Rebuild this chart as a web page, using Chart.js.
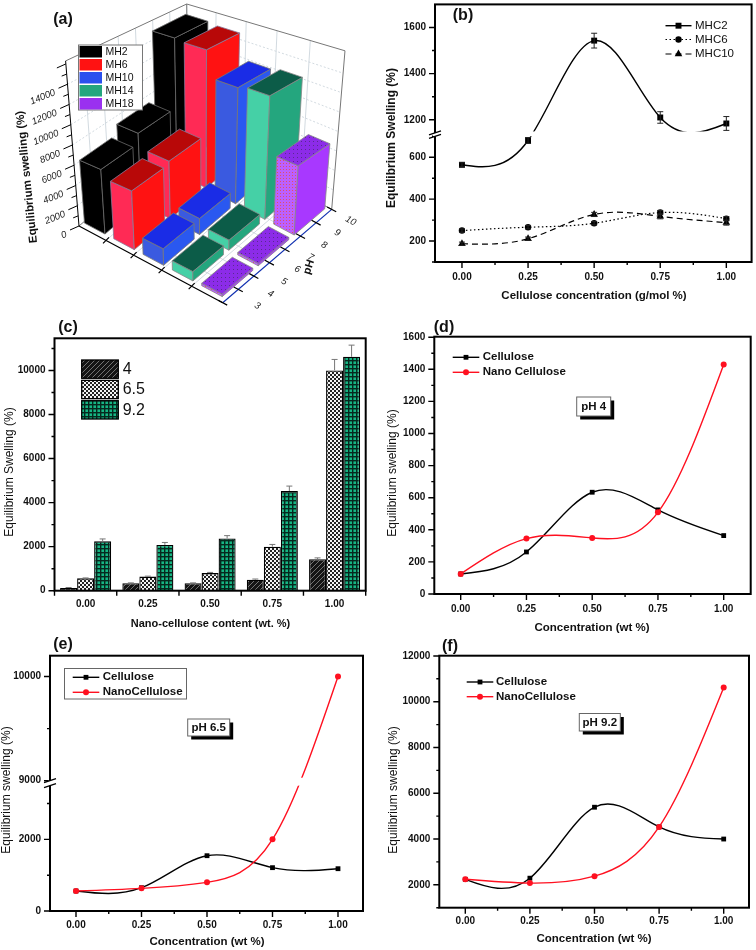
<!DOCTYPE html>
<html>
<head>
<meta charset="utf-8">
<title>Equilibrium swelling</title>
<script src="https://cdn.jsdelivr.net/npm/chart.js@4/dist/chart.umd.min.js"></script>
<style>
  html, body { margin: 0; padding: 0; background: #fff; }
  #stage { position: relative; width: 756px; height: 950px; overflow: hidden; }
  #stage canvas { position: absolute; left: 0; top: 0; }
</style>
</head>
<body>
<div id="stage">
  <canvas id="panelA" width="756" height="950"></canvas>
  <canvas id="panelB" width="756" height="950"></canvas>
  <canvas id="panelC" width="756" height="950"></canvas>
  <canvas id="panelD" width="756" height="950"></canvas>
  <canvas id="panelE" width="756" height="950"></canvas>
  <canvas id="panelF" width="756" height="950"></canvas>
</div>
<script>
// panel (a): rows are the three measured pH levels
const mhNames = ["MH2", "MH6", "MH10", "MH14", "MH18"];
const mh2 = [6250, 7300, 15200];
const mh6 = [5500, 5800, 15000];
const mh10 = [1500, 1550, 12100];
const mh14 = [820, 940, 12400];
const mh18 = [200, 210, 6700];
const pHTicks = [3, 4, 5, 6, 7, 8, 9, 10];
const swellTicks3d = [0, 2000, 4000, 6000, 8000, 10000, 12000, 14000];

// shared x positions
const concentrations = [0, 0.25, 0.5, 0.75, 1];
const concLabels = ["0.00", "0.25", "0.50", "0.75", "1.00"];
const xMinor = [0.125, 0.375, 0.625, 0.875];

// panel (b)
const mhc2 = [564, 680, 1543, 1210, 1184];
const mhc2Err = [10, 14, 32, 25, 30];
const mhc6 = [250, 266, 285, 336, 307];
const mhc6Err = [8, 8, 8, 10, 10];
const mhc10 = [187, 211, 327, 318, 288];
const mhc10Err = [8, 8, 10, 12, 12];
const bMajor = [200, 400, 600, 1200, 1400, 1600];
const bMinor = [100, 300, 500, 700, 1300, 1500];

// panel (c)
const ph4 = [125, 340, 340, 500, 1430];
const ph4Err = [20, 15, 15, 30, 60];
const ph65 = [560, 640, 800, 2000, 10000];
const ph65Err = [20, 20, 30, 100, 500];
const ph92 = [2240, 2080, 2370, 4530, 10620];
const ph92Err = [110, 110, 130, 220, 530];
const cMajor = [0, 2000, 4000, 6000, 8000, 10000];
const cMinor = [1000, 3000, 5000, 7000, 9000, 11000];

// panel (d)
const celluloseD = [125, 262, 634, 524, 364];
const nanoD = [125, 345, 349, 509, 1430];
const dMajor = [0, 200, 400, 600, 800, 1000, 1200, 1400, 1600];
const dMinor = [100, 300, 500, 700, 900, 1100, 1300, 1500];

// panel (e)
const celluloseE = [558, 650, 1544, 1210, 1181];
const nanoE = [558, 633, 800, 2000, 10000];
const eMajor = [0, 2000, 9000, 10000];
const eMinor = [1000, 3000, 9500];

// panel (f)
const celluloseF = [2240, 2290, 5390, 4530, 4000];
const nanoF = [2240, 2075, 2378, 4530, 10620];
const fMajor = [2000, 4000, 6000, 8000, 10000, 12000];
const fMinor = [1000, 3000, 5000, 7000, 9000, 11000];

const FONT = '"Liberation Sans", Arial, sans-serif';
const RED = "#ff1020";
const BLACK = "#000000";

// y axis with a cut in it, used by panels (b) and (e)
class BrokenScale extends Chart.LinearScale {
  static id = "broken";
  static defaults = {};
  getPixelForValue(value) {
    const { low, high, lowFrac, highFrac } = this.options.cut;
    let frac;
    if (value <= low) {
      frac = ((value - this.min) / (low - this.min)) * lowFrac;
    } else if (value >= high) {
      frac = highFrac + ((value - high) / (this.max - high)) * (1 - highFrac);
    } else {
      frac = lowFrac + ((value - low) / (high - low)) * (highFrac - lowFrac);
    }
    return this.getPixelForDecimal(frac);
  }
}
Chart.register(BrokenScale);

function xy(values) {
  return values.map((v, i) => ({ x: concentrations[i], y: v }));
}

function makePattern(size, paint) {
  const c = document.createElement("canvas");
  c.width = size;
  c.height = size;
  paint(c.getContext("2d"));
  return c.getContext("2d").createPattern(c, "repeat");
}

const hatchFill = makePattern(5, (g) => {
  g.fillStyle = "#141414";
  g.fillRect(0, 0, 5, 5);
  g.strokeStyle = "#8a8a8a";
  g.lineWidth = 0.8;
  g.beginPath();
  g.moveTo(-1, 6);
  g.lineTo(6, -1);
  g.moveTo(-1, 1);
  g.lineTo(1, -1);
  g.moveTo(4, 6);
  g.lineTo(6, 4);
  g.stroke();
});
const checkFill = makePattern(4, (g) => {
  g.fillStyle = "#f4f4f4";
  g.fillRect(0, 0, 4, 4);
  g.fillStyle = "#222";
  g.fillRect(0, 0, 2, 2);
  g.fillRect(2, 2, 2, 2);
});
const gridFill = makePattern(4, (g) => {
  g.fillStyle = "#16b583";
  g.fillRect(0, 0, 4, 4);
  g.fillStyle = "#06281e";
  g.fillRect(0, 0, 4, 1.4);
  g.fillRect(0, 0, 1.4, 4);
});
const dotFill = makePattern(3, (g) => {
  g.fillStyle = "#bb60ff";
  g.fillRect(0, 0, 3, 3);
  g.fillStyle = "#e0506a";
  g.fillRect(1, 1, 1, 1);
});
const dotTopFill = makePattern(4, (g) => {
  g.fillStyle = "#8c2ce8";
  g.fillRect(0, 0, 4, 4);
  g.fillStyle = "#5a2a90";
  g.fillRect(1, 1, 1, 1);
});

function drawText(ctx, t) {
  ctx.save();
  ctx.translate(t.x, t.y);
  if (t.rot) ctx.rotate((t.rot * Math.PI) / 180);
  ctx.font = t.font;
  ctx.fillStyle = t.color || "#111";
  ctx.textAlign = t.align || "center";
  ctx.textBaseline = "middle";
  ctx.fillText(t.text, 0, 0);
  ctx.restore();
}

// natural cubic spline through the plotted points, written into the
// control points the line element already reads
function applySpline(meta) {
  const pts = meta.data;
  const n = pts.length;
  const h = [];
  for (let i = 0; i < n - 1; i++) h.push(pts[i + 1].x - pts[i].x);
  const a = new Array(n).fill(0);
  const b = new Array(n).fill(1);
  const c = new Array(n).fill(0);
  const d = new Array(n).fill(0);
  for (let i = 1; i < n - 1; i++) {
    a[i] = h[i - 1];
    b[i] = 2 * (h[i - 1] + h[i]);
    c[i] = h[i];
    d[i] = 6 * ((pts[i + 1].y - pts[i].y) / h[i] - (pts[i].y - pts[i - 1].y) / h[i - 1]);
  }
  for (let i = 1; i < n; i++) {
    const m = a[i] / b[i - 1];
    b[i] -= m * c[i - 1];
    d[i] -= m * d[i - 1];
  }
  const M = new Array(n).fill(0);
  M[n - 1] = d[n - 1] / b[n - 1];
  for (let i = n - 2; i >= 0; i--) M[i] = (d[i] - c[i] * M[i + 1]) / b[i];
  for (let i = 0; i < n - 1; i++) {
    const p = pts[i];
    const q = pts[i + 1];
    const s = (q.y - p.y) / h[i];
    const d0 = s - (h[i] * (2 * M[i] + M[i + 1])) / 6;
    const d1 = s + (h[i] * (M[i] + 2 * M[i + 1])) / 6;
    p.cp2x = p.x + h[i] / 3;
    p.cp2y = p.y + (d0 * h[i]) / 3;
    q.cp1x = q.x - h[i] / 3;
    q.cp1y = q.y - (d1 * h[i]) / 3;
  }
  pts[0].cp1x = pts[0].x;
  pts[0].cp1y = pts[0].y;
  pts[n - 1].cp2x = pts[n - 1].x;
  pts[n - 1].cp2y = pts[n - 1].y;
  meta.dataset._pointsUpdated = true;
  meta.dataset._path = undefined;
}

function drawErrorBars(chart) {
  const { ctx } = chart;
  const yScale = chart.scales.y;
  chart.data.datasets.forEach((ds, i) => {
    if (!ds.errors) return;
    const meta = chart.getDatasetMeta(i);
    ctx.save();
    ctx.strokeStyle = ds.errorColor || "#222";
    ctx.lineWidth = 1;
    ds.errors.forEach((err, k) => {
      const el = meta.data[k];
      const v = chart.data.datasets[i].data[k];
      const val = typeof v === "number" ? v : v.y;
      const top = yScale.getPixelForValue(val + err);
      const bot = ds.upOnly ? el.y : yScale.getPixelForValue(val - err);
      ctx.beginPath();
      ctx.moveTo(el.x, top);
      ctx.lineTo(el.x, bot);
      ctx.moveTo(el.x - 3, top);
      ctx.lineTo(el.x + 3, top);
      if (!ds.upOnly) {
        ctx.moveTo(el.x - 3, bot);
        ctx.lineTo(el.x + 3, bot);
      }
      ctx.stroke();
    });
    ctx.restore();
  });
}

// box round the plot, outward ticks, axis cut marks
function drawFrame(chart, conf) {
  const { ctx, chartArea: area } = chart;
  const { x, y } = chart.scales;
  if (conf.cut) {
    const top = y.getPixelForValue(conf.cut.high) - conf.cut.padTop;
    const bot = y.getPixelForValue(conf.cut.low) + conf.cut.padBottom;
    ctx.fillStyle = "#fff";
    ctx.fillRect(area.left + 2, top, area.right - area.left - 4, bot - top);
  }
  ctx.save();
  ctx.strokeStyle = "#000";
  ctx.lineWidth = 2;
  ctx.strokeRect(area.left, area.top, area.right - area.left, area.bottom - area.top);
  ctx.lineWidth = 1.4;
  ctx.beginPath();
  y.ticks.forEach((t) => {
    const py = y.getPixelForValue(t.value);
    ctx.moveTo(area.left, py);
    ctx.lineTo(area.left - (t.label ? 6 : 3), py);
  });
  if (conf.edgeTicks) {
    for (let i = 0; i <= x.ticks.length; i++) {
      const px = x.getPixelForValue(i - 0.5);
      ctx.moveTo(px, area.bottom);
      ctx.lineTo(px, area.bottom + 5);
    }
  } else {
    x.ticks.forEach((t) => {
      const px = x.getPixelForValue(t.value);
      ctx.moveTo(px, area.bottom);
      ctx.lineTo(px, area.bottom + (t.label ? 6 : 3));
    });
  }
  ctx.stroke();
  if (conf.cut) {
    const cutTop = y.getPixelForValue(conf.cut.high);
    const cutBot = y.getPixelForValue(conf.cut.low);
    ctx.fillStyle = "#fff";
    ctx.fillRect(area.left - 2, cutTop, 4, cutBot - cutTop);
    ctx.lineWidth = 1.3;
    ctx.beginPath();
    ctx.moveTo(area.left - 6, cutTop + 2);
    ctx.lineTo(area.left + 6, cutTop - 2);
    ctx.moveTo(area.left - 6, cutBot + 2);
    ctx.lineTo(area.left + 6, cutBot - 2);
    ctx.stroke();
  }
  ctx.restore();
}

function drawLineLegend(chart, lg) {
  const { ctx } = chart;
  if (lg.box) {
    ctx.save();
    ctx.fillStyle = "#fff";
    ctx.strokeStyle = "#666";
    ctx.lineWidth = 1;
    ctx.fillRect(lg.box[0], lg.box[1], lg.box[2], lg.box[3]);
    ctx.strokeRect(lg.box[0], lg.box[1], lg.box[2], lg.box[3]);
    ctx.restore();
  }
  chart.data.datasets.forEach((ds, i) => {
    const ly = lg.ys[i];
    ctx.save();
    ctx.strokeStyle = ds.borderColor;
    ctx.lineWidth = ds.borderWidth;
    ctx.setLineDash(ds.borderDash || []);
    ctx.beginPath();
    ctx.moveTo(lg.x0, ly);
    ctx.lineTo(lg.x1, ly);
    ctx.stroke();
    ctx.setLineDash([]);
    ctx.fillStyle = ds.pointBackgroundColor;
    ctx.strokeStyle = ds.pointBackgroundColor;
    Chart.helpers.drawPoint(ctx, { pointStyle: ds.pointStyle, radius: ds.pointRadius, borderWidth: 0, rotation: 0 }, (lg.x0 + lg.x1) / 2, ly);
    ctx.restore();
    drawText(ctx, { text: ds.label, x: lg.textX, y: ly, font: lg.font, align: "left" });
  });
}

function drawTag(chart, tag) {
  const { ctx } = chart;
  ctx.save();
  ctx.fillStyle = "#000";
  ctx.fillRect(tag.x + 3.5, tag.y + 3.5, tag.w, tag.h);
  ctx.fillStyle = "#fff";
  ctx.strokeStyle = "#666";
  ctx.lineWidth = 1;
  ctx.fillRect(tag.x, tag.y, tag.w, tag.h);
  ctx.strokeRect(tag.x, tag.y, tag.w, tag.h);
  ctx.restore();
  drawText(ctx, { text: tag.text, x: tag.x + tag.w / 2, y: tag.y + tag.h / 2 + 0.5, font: "bold 11.5px " + FONT });
}

function panelPlugin(conf) {
  return {
    id: "panel",
    beforeDatasetsDraw(chart) {
      chart.data.datasets.forEach((ds, i) => {
        if (ds.spline) applySpline(chart.getDatasetMeta(i));
      });
    },
    afterDatasetsDraw(chart) {
      drawFrame(chart, conf);
      drawErrorBars(chart);
      if (conf.legend) drawLineLegend(chart, conf.legend);
      if (conf.tag) drawTag(chart, conf.tag);
      if (conf.extra) conf.extra(chart);
      conf.texts.forEach((t) => drawText(chart.ctx, t));
    },
  };
}

function axisOptions(plot, xConf, yConf) {
  const tickFont = { family: FONT, size: 10, weight: "bold" };
  const common = {
    grid: { display: false, drawTicks: false },
    border: { display: false },
  };
  return {
    x: {
      ...common,
      ...xConf,
      ticks: { font: tickFont, color: "#111", padding: plot.xPad, maxRotation: 0, autoSkip: false, ...(xConf.ticks || {}) },
      afterFit: (s) => {
        s.height = 950 - plot.b;
        s.paddingLeft = 0;
        s.paddingRight = 0;
      },
    },
    y: {
      ...common,
      ...yConf,
      ticks: { font: tickFont, color: "#111", padding: 9, autoSkip: false, callback: (v) => (yConf.major.includes(v) ? String(v) : "") },
      afterBuildTicks: (s) => {
        s.ticks = yConf.major.concat(yConf.minor).map((v) => ({ value: v }));
      },
      afterFit: (s) => {
        s.width = plot.l;
        s.paddingTop = 0;
        s.paddingBottom = 0;
      },
    },
  };
}

function linearX(plot, zero, one) {
  const unit = one - zero;
  return {
    type: "linear",
    min: (plot.l - zero) / unit,
    max: (plot.r - zero) / unit,
    afterBuildTicks: (s) => {
      s.ticks = concentrations.concat(xMinor).map((v) => ({ value: v }));
    },
    ticks: {
      callback: (v) => {
        const i = concentrations.indexOf(v);
        return i >= 0 ? concLabels[i] : "";
      },
    },
  };
}

function lineSet(label, values, color, style, radius, extra) {
  return {
    label: label,
    data: xy(values),
    spline: true,
    tension: 0.4,
    borderColor: color,
    borderWidth: 1.4,
    pointStyle: style,
    pointRadius: radius,
    pointBorderWidth: 0,
    pointBackgroundColor: color,
    clip: false,
    ...extra,
  };
}

function linePanel(id, plot, xRange, yConf, datasets, conf) {
  return new Chart(document.getElementById(id), {
    type: "line",
    data: { datasets: datasets },
    options: {
      responsive: false,
      animation: false,
      events: [],
      layout: { padding: { top: plot.t, right: 756 - plot.r, left: 0, bottom: 0 } },
      plugins: { legend: { display: false }, tooltip: { enabled: false } },
      scales: axisOptions(plot, linearX(plot, xRange[0], xRange[1]), yConf),
    },
    plugins: [panelPlugin(conf)],
  });
}

// ---------- panel (a): pseudo 3D columns projected from the chart's scales ----------
const floorO = { x: 79, y: 226 };
const floorFront = { x: 143.7, y: 76.7 };
const floorSide = { x: 109, y: -93.3 };

function groundAt(u, q) {
  return {
    x: floorO.x + u * floorFront.x + q * floorSide.x,
    y: floorO.y + u * floorFront.y + q * floorSide.y,
  };
}

function lift(g, value, yScale) {
  const frac = (yScale.bottom - yScale.getPixelForValue(value)) / (yScale.bottom - yScale.top);
  const h = frac * (128.7 + 0.39 * (g.y - 132.7));
  return { x: g.x + (h * (g.x - 203.3)) / 1533, y: g.y - h };
}

function poly(ctx, pts, fill, stroke) {
  ctx.beginPath();
  pts.forEach((p, i) => (i ? ctx.lineTo(p.x, p.y) : ctx.moveTo(p.x, p.y)));
  ctx.closePath();
  if (fill) {
    ctx.fillStyle = fill;
    ctx.fill();
  }
  if (stroke) {
    ctx.strokeStyle = stroke;
    ctx.stroke();
  }
}

function seg(ctx, a, b) {
  ctx.moveTo(a.x, a.y);
  ctx.lineTo(b.x, b.y);
}

const barFaces = [
  { left: "#000000", right: "#000000", top: "#000000", edge: "#6a6a6a", swatch: "#000000" },
  { left: "#ff2a55", right: "#ff1212", top: "#b80808", edge: "#8a7a9a", swatch: "#ff1212" },
  { left: "#3a5ae0", right: "#2a58f0", top: "#1a2ce6", edge: "#777", swatch: "#2a50ee" },
  { left: "#45d0a6", right: "#24a67e", top: "#0c5c48", edge: "#888", swatch: "#24a67e" },
  { left: dotFill, right: "#a838ff", top: dotTopFill, edge: "#888", swatch: "#9a30f0" },
];

function draw3d(chart) {
  const { ctx } = chart;
  const { x, y, z, ph } = chart.scales;
  const uOf = (s) => (x.getPixelForValue(s) - x.left) / x.width;
  const qOf = (r) => (z.getPixelForValue(r) - z.left) / z.width;
  const qPh = (p) => (ph.getPixelForValue(p) - ph.left) / ph.width;
  const O = groundAt(0, 0);
  const back = groundAt(0, 1);
  const right = groundAt(1, 1);
  const front = groundAt(1, 0);
  const top = y.max;

  ctx.save();
  // walls grid
  ctx.lineWidth = 0.8;
  ctx.strokeStyle = "#c6d0d8";
  ctx.beginPath();
  pHTicks.forEach((p) => {
    if (p === 3) return;
    const g0 = groundAt(0, qPh(p));
    seg(ctx, g0, lift(g0, top, y));
    seg(ctx, g0, groundAt(1, qPh(p)));
  });
  [0.188, 0.38, 0.575, 0.784].forEach((u) => {
    const g1 = groundAt(u, 1);
    seg(ctx, g1, lift(g1, top, y));
    seg(ctx, groundAt(u, 0), g1);
  });
  ctx.stroke();
  ctx.setLineDash([2, 2]);
  ctx.beginPath();
  swellTicks3d.forEach((v) => {
    if (v === 0) return;
    seg(ctx, lift(O, v, y), lift(back, v, y));
    seg(ctx, lift(back, v, y), lift(right, v, y));
  });
  ctx.stroke();
  ctx.setLineDash([]);
  // wall outline
  ctx.strokeStyle = "#777";
  ctx.lineWidth = 1;
  ctx.beginPath();
  seg(ctx, lift(O, top, y), lift(back, top, y));
  seg(ctx, lift(back, top, y), lift(right, top, y));
  seg(ctx, lift(right, top, y), right);
  seg(ctx, back, lift(back, top, y));
  seg(ctx, O, back);
  seg(ctx, back, right);
  ctx.stroke();

  // columns, far rows first
  const rows = chart.data.datasets[0].data.length;
  for (let r = rows - 1; r >= 0; r--) {
    chart.data.datasets.forEach((ds, s) => {
      const value = ds.data[r].y;
      const face = barFaces[s];
      const L = groundAt(uOf(s - 0.7), qOf(r));
      const F = groundAt(uOf(s), qOf(r));
      const R = groundAt(uOf(s), qOf(r + 0.85));
      const B = groundAt(uOf(s - 0.7), qOf(r + 0.85));
      const Lt = lift(L, value, y);
      const Ft = lift(F, value, y);
      const Rt = lift(R, value, y);
      const Bt = lift(B, value, y);
      ctx.lineWidth = 0.8;
      poly(ctx, [L, F, Ft, Lt], face.left, face.edge);
      poly(ctx, [F, R, Rt, Ft], face.right, face.edge);
      poly(ctx, [Lt, Ft, Rt, Bt], face.top, face.edge);
    });
  }

  // value axis on the left edge
  ctx.strokeStyle = "#000";
  ctx.lineWidth = 1;
  ctx.beginPath();
  seg(ctx, O, lift(O, top, y));
  for (let v = 0; v <= 16000; v += 1000) {
    const p = lift(O, v, y);
    const major = v % 2000 === 0;
    seg(ctx, p, { x: p.x - (major ? 9 : 5), y: p.y + (major ? 4 : 2) });
  }
  ctx.stroke();
  swellTicks3d.forEach((v) => {
    const p = lift(O, v, y);
    drawText(ctx, { text: String(v), x: p.x - 12.5, y: p.y + 8, rot: -22, align: "right", font: "italic 9.5px " + FONT, color: "#222" });
  });

  // floor axes
  ctx.lineWidth = 1.2;
  ctx.strokeStyle = "#000";
  ctx.beginPath();
  seg(ctx, O, front);
  [0.188, 0.38, 0.575, 0.784].forEach((u) => {
    const p = groundAt(u, 0);
    seg(ctx, { x: p.x - 3, y: p.y + 3 }, { x: p.x + 3, y: p.y - 3 });
  });
  ctx.stroke();
  ctx.strokeStyle = "#1030b0";
  ctx.beginPath();
  seg(ctx, front, right);
  ctx.stroke();
  ctx.strokeStyle = "#000";
  ctx.beginPath();
  pHTicks.forEach((p) => {
    const q = qPh(p);
    const g = groundAt(1, q);
    seg(ctx, { x: g.x - 4.5, y: g.y - 2.4 }, { x: g.x + 4.5, y: g.y + 2.4 });
    drawText(ctx, { text: String(p), x: g.x + 34.6 - 15.6 * q, y: g.y + 3.3 + 8.1 * q, rot: 28, font: "italic 9.5px " + FONT, color: "#222" });
  });
  ctx.stroke();

  // legend
  const lx = 78.5;
  const ly = 45;
  ctx.fillStyle = "#fff";
  ctx.fillRect(lx, ly, 64, 65);
  ctx.strokeStyle = "#777";
  ctx.lineWidth = 1;
  ctx.strokeRect(lx, ly, 64, 65);
  mhNames.forEach((name, i) => {
    const rowY = ly + 1 + i * 13;
    ctx.fillStyle = barFaces[i].swatch;
    ctx.fillRect(lx + 1, rowY, 22.5, 11.5);
    drawText(ctx, { text: name, x: lx + 27, y: rowY + 6, align: "left", font: "10.5px " + FONT, color: "#111" });
  });
  ctx.restore();
}

const mhSeries = [mh2, mh6, mh10, mh14, mh18];
new Chart(document.getElementById("panelA"), {
  type: "scatter",
  data: {
    datasets: mhSeries.map((vals, s) => ({
      label: mhNames[s],
      data: vals.map((v) => ({ x: s, y: v })),
      pointRadius: 0,
    })),
  },
  options: {
    responsive: false,
    animation: false,
    events: [],
    layout: { padding: { top: 61, bottom: 724, left: 79, right: 377 } },
    plugins: { legend: { display: false }, tooltip: { enabled: false } },
    scales: {
      x: { type: "linear", min: -0.743, max: 4.16, display: false },
      z: { axis: "x", type: "linear", min: -0.117, max: 2.913, display: false },
      ph: { axis: "x", type: "linear", min: 3, max: 10, display: false },
      y: { type: "linear", min: 0, max: 16300, display: false },
    },
  },
  plugins: [{
    id: "bars3d",
    afterDatasetsDraw(chart) {
      draw3d(chart);
      const texts = [
        { text: "(a)", x: 63, y: 20, font: "bold 16px " + FONT },
        { text: "Equilibrium swelling (%)", x: 27, y: 177, rot: -96, font: "bold 11.5px " + FONT },
        { text: "pH", x: 309, y: 267, rot: -72, font: "bold 11px " + FONT },
      ];
      texts.forEach((t) => drawText(chart.ctx, t));
    },
  }],
});

// ---------- panel (b) ----------
linePanel(
  "panelB",
  { l: 435, r: 752, t: 2, b: 262, xPad: 9 },
  [462, 726.7],
  {
    type: "broken",
    min: 100,
    max: 1700,
    major: bMajor,
    minor: bMinor,
    cut: { low: 700, high: 1143, lowFrac: 0.488, highFrac: 0.501 },
  },
  [
    lineSet("MHC2", mhc2, BLACK, "rect", 4.2, { errors: mhc2Err }),
    lineSet("MHC6", mhc6, BLACK, "circle", 3.2, { errors: mhc6Err, borderDash: [1.5, 2.5], borderWidth: 1.2 }),
    lineSet("MHC10", mhc10, BLACK, "triangle", 4.4, { errors: mhc10Err, borderDash: [6, 4], borderWidth: 1.2 }),
  ],
  {
    cut: { low: 700, high: 1143, padTop: 1.5, padBottom: 0 },
    legend: { x0: 665.5, x1: 691.5, textX: 695, ys: [25.7, 39.5, 54], font: "11.5px " + FONT },
    texts: [
      { text: "(b)", x: 463, y: 16, font: "bold 16px " + FONT },
      { text: "Equilibrium Swelling (%)", x: 391.5, y: 138, rot: -90, font: "bold 12px " + FONT },
      { text: "Cellulose concentration (g/mol %)", x: 594, y: 296, font: "bold 11.5px " + FONT },
    ],
  }
);

// ---------- panel (c) ----------
const cPlot = { l: 54.5, r: 365.7, t: 338.3, b: 590.7, xPad: 8 };
new Chart(document.getElementById("panelC"), {
  type: "bar",
  data: {
    labels: concLabels,
    datasets: [
      { label: "4", data: ph4, backgroundColor: hatchFill, errors: ph4Err, upOnly: true, errorColor: "#777" },
      { label: "6.5", data: ph65, backgroundColor: checkFill, errors: ph65Err, upOnly: true, errorColor: "#777" },
      { label: "9.2", data: ph92, backgroundColor: gridFill, errors: ph92Err, upOnly: true, errorColor: "#777" },
    ].map((d) => ({ ...d, borderColor: "#000", borderWidth: 1.3, categoryPercentage: 0.82, barPercentage: 1 })),
  },
  options: {
    responsive: false,
    animation: false,
    events: [],
    layout: { padding: { top: cPlot.t, right: 756 - cPlot.r, left: 0, bottom: 0 } },
    plugins: { legend: { display: false }, tooltip: { enabled: false } },
    scales: axisOptions(cPlot, { type: "category" }, { type: "linear", min: 0, max: 11460, major: cMajor, minor: cMinor }),
  },
  plugins: [panelPlugin({
    edgeTicks: true,
    extra(chart) {
      const { ctx } = chart;
      chart.data.datasets.forEach((ds, i) => {
        const top = 360 + i * 20.35;
        ctx.fillStyle = ds.backgroundColor;
        ctx.fillRect(81.7, top, 36.6, 18.3);
        ctx.strokeStyle = "#000";
        ctx.lineWidth = 1.3;
        ctx.strokeRect(81.7, top, 36.6, 18.3);
        drawText(ctx, { text: ds.label, x: 122.7, y: top + 9.5, align: "left", font: "16px " + FONT, color: "#111" });
      });
    },
    texts: [
      { text: "(c)", x: 68, y: 328, font: "bold 16px " + FONT },
      { text: "Equilibrium Swelling (%)", x: 9.5, y: 472, rot: -90, font: "12px " + FONT },
      { text: "Nano-cellulose content (wt. %)", x: 210.5, y: 624, font: "bold 11px " + FONT },
    ],
  })],
});

// ---------- panel (d) ----------
linePanel(
  "panelD",
  { l: 434.3, r: 750.7, t: 336.7, b: 594, xPad: 9 },
  [460.7, 723.7],
  { type: "linear", min: 0, max: 1603, major: dMajor, minor: dMinor },
  [
    lineSet("Cellulose", celluloseD, BLACK, "rect", 3.4, { order: 1 }),
    lineSet("Nano Cellulose", nanoD, RED, "circle", 3, { order: 0 }),
  ],
  {
    legend: { x0: 452.7, x1: 479.3, textX: 482.7, ys: [357.3, 372.3], font: "bold 11.5px " + FONT },
    tag: { text: "pH 4", x: 576.7, y: 397, w: 34, h: 19 },
    texts: [
      { text: "(d)", x: 444, y: 328, font: "bold 16px " + FONT },
      { text: "Equilibrium swelling (%)", x: 393, y: 473, rot: -90, font: "12px " + FONT },
      { text: "Concentration (wt %)", x: 592, y: 628, font: "bold 11.5px " + FONT },
    ],
  }
);

// ---------- panel (e) ----------
linePanel(
  "panelE",
  { l: 50, r: 363, t: 655.7, b: 911, xPad: 8 },
  [76, 338],
  {
    type: "broken",
    min: 0,
    max: 10200,
    major: eMajor,
    minor: eMinor,
    cut: { low: 3500, high: 9000, lowFrac: 0.491, highFrac: 0.5104 },
  },
  [
    lineSet("Cellulose", celluloseE, BLACK, "rect", 3.4, { order: 1 }),
    lineSet("NanoCellulose", nanoE, RED, "circle", 3, { order: 0 }),
  ],
  {
    cut: { low: 3500, high: 9000, padTop: 3, padBottom: 0 },
    legend: { x0: 72.7, x1: 99.3, textX: 102.7, ys: [677.3, 692.3], font: "bold 11.5px " + FONT, box: [64.5, 668.5, 122, 30.5] },
    tag: { text: "pH 6.5", x: 187.7, y: 719, w: 42, h: 17 },
    texts: [
      { text: "(e)", x: 63, y: 645, font: "bold 16px " + FONT },
      { text: "Equilibrium swelling (%)", x: 7, y: 790, rot: -90, font: "12px " + FONT },
      { text: "Concentration (wt %)", x: 207, y: 942, font: "bold 11.5px " + FONT },
    ],
  }
);

// ---------- panel (f) ----------
linePanel(
  "panelF",
  { l: 439.3, r: 749, t: 655.7, b: 907.7, xPad: 8 },
  [465.3, 723.7],
  { type: "linear", min: 1000, max: 12010, major: fMajor, minor: fMinor },
  [
    lineSet("Cellulose", celluloseF, BLACK, "rect", 3.4, { order: 1 }),
    lineSet("NanoCellulose", nanoF, RED, "circle", 3, { order: 0 }),
  ],
  {
    legend: { x0: 466.7, x1: 493.3, textX: 496, ys: [682, 696.7], font: "bold 11.5px " + FONT },
    tag: { text: "pH 9.2", x: 579.3, y: 713.5, w: 41, h: 17.5 },
    texts: [
      { text: "(f)", x: 450, y: 647, font: "bold 16px " + FONT },
      { text: "Equilibrium swelling (%)", x: 393.5, y: 790, rot: -90, font: "12px " + FONT },
      { text: "Concentration (wt %)", x: 594, y: 939, font: "bold 11.5px " + FONT },
    ],
  }
);
</script>
</body>
</html>
